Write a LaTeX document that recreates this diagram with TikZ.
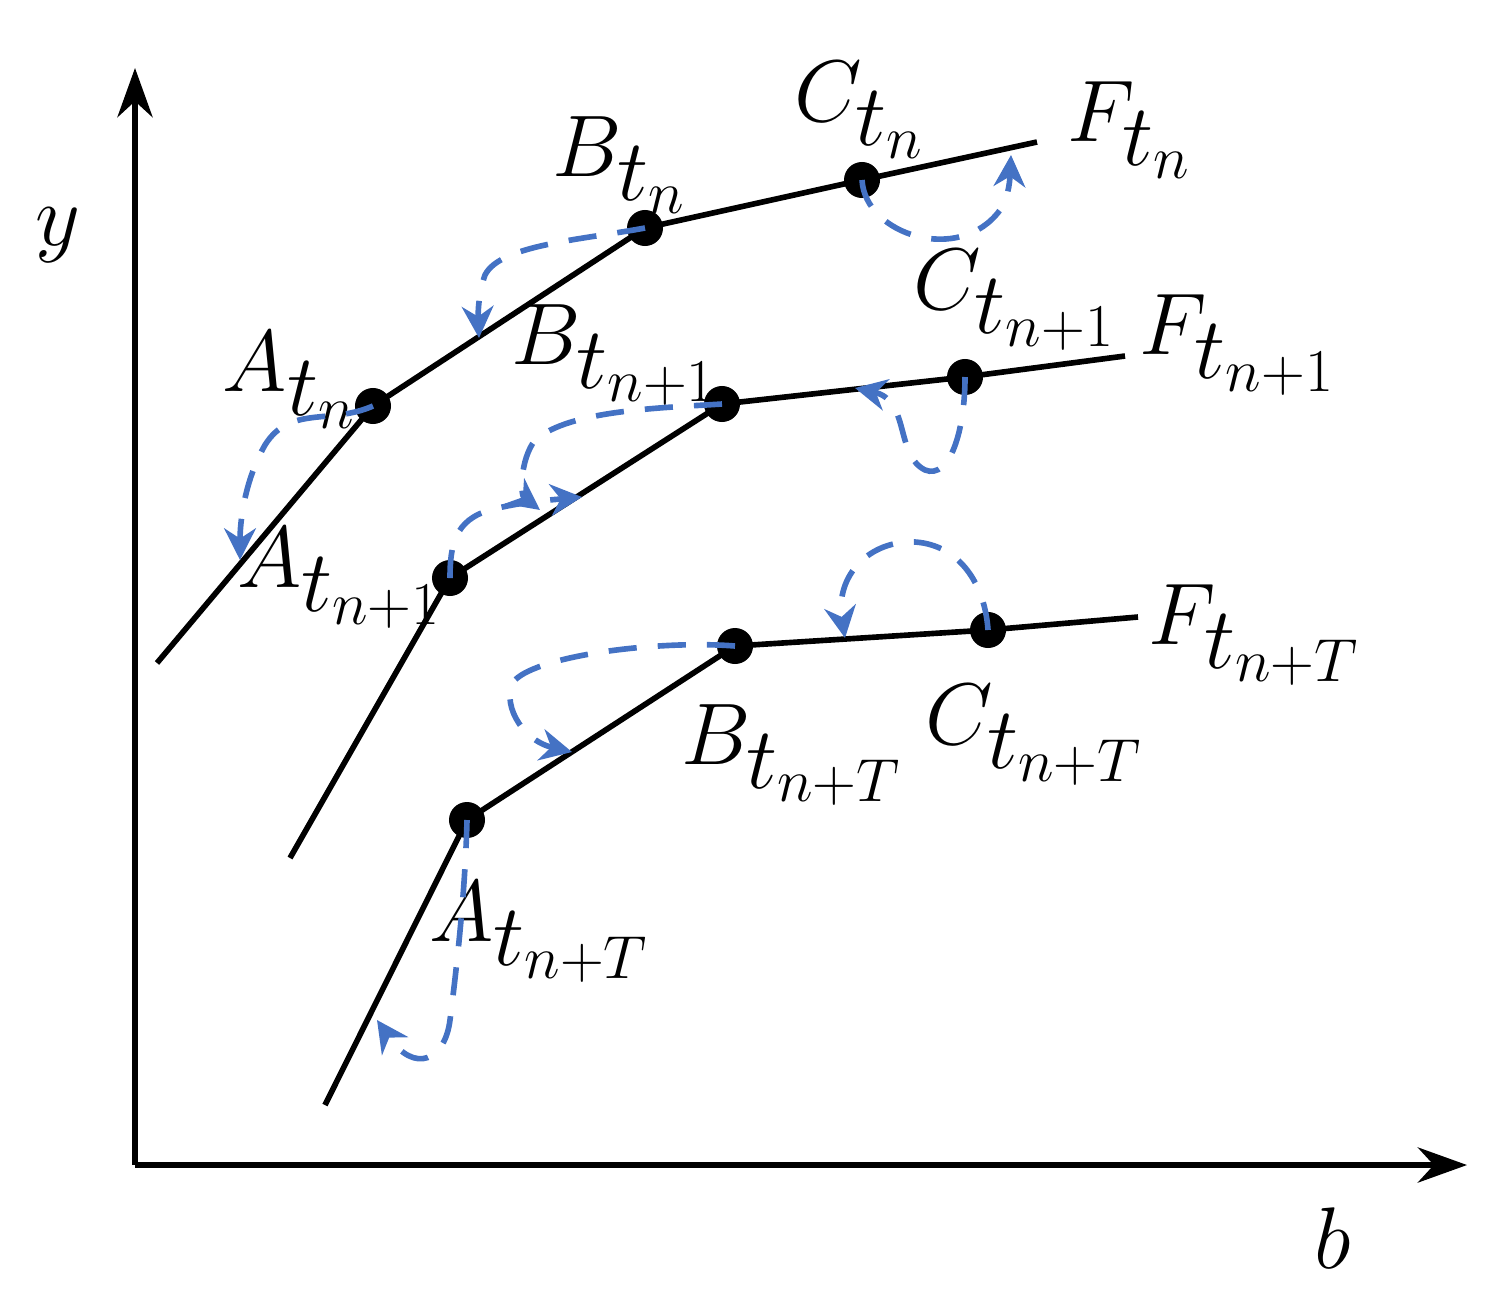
\documentclass[tikz,border=0pt]{standalone}
\usetikzlibrary{arrows.meta}
\definecolor{bl}{HTML}{4472C4}
\begin{document}
\begin{tikzpicture}[x=0.01cm,y=-0.01cm,
 dot/.style={circle,fill=black,inner sep=0pt,minimum size=0.36cm},
 curve/.style={line width=1.6pt},
 dsh/.style={bl,line width=1.6pt,dash pattern=on 8pt off 6pt,-{Stealth[length=9pt,width=9pt]}},
 lab/.style={font=\fontsize{34}{40}\selectfont}]
\useasboundingbox (0,0) rectangle (1507,1300);
\draw[line width=1.6pt,-{Stealth[length=14pt,width=10pt]}] (135,1165) -- (135,68);
\draw[line width=1.6pt,-{Stealth[length=14pt,width=10pt]}] (135,1165) -- (1467,1165);
\node[lab] at (58,235) {$y$};
\node[lab] at (1333,1238) {$b$};
% curve 1
\node[dot] (A1) at (373,406) {}; \node[dot] (B1) at (645,228) {}; \node[dot] (C1) at (862,180) {};
\coordinate (S1) at (157,663); \coordinate (E1) at (1037,142);
\draw[curve] (S1) -- (A1.center) -- (B1.center) -- (C1.center) -- (E1);
% curve 2
\node[dot] (A2) at (450,578) {}; \node[dot] (B2) at (722,404) {}; \node[dot] (C2) at (965,377) {};
\coordinate (S2) at (290,858); \coordinate (E2) at (1125,356);
\draw[curve] (S2) -- (A2.center) -- (B2.center) -- (C2.center) -- (E2);
% curve 3
\node[dot] (A3) at (467,820) {}; \node[dot] (B3) at (735,646) {}; \node[dot] (C3) at (988,630) {};
\coordinate (S3) at (325,1105); \coordinate (E3) at (1138,617);
\draw[curve] (S3) -- (A3.center) -- (B3.center) -- (C3.center) -- (E3);
% labels
\node[lab] (lA1) at (290,380) {$A_{t_n}$};
\node[lab] (lB1) at (620,165) {$B_{t_n}$};
\node[lab] (lC1) at (860,110) {$C_{t_n}$};
\node[lab] (lF1) at (1130,130) {$F_{t_n}$};
\node[lab] (lA2) at (340,578) {$A_{t_{n+1}}$};
\node[lab] (lB2) at (615,355) {$B_{t_{n+1}}$};
\node[lab] (lC2) at (1015,300) {$C_{t_{n+1}}$};
\node[lab] (lF2) at (1238,345) {$F_{t_{n+1}}$};
\node[lab] (lA3) at (540,932) {$A_{t_{n+T}}$};
\node[lab] (lB3) at (792,755) {$B_{t_{n+T}}$};
\node[lab] (lC3) at (1035,735) {$C_{t_{n+T}}$};
\node[lab] (lF3) at (1255,635) {$F_{t_{n+T}}$};
% dashed arrows
\draw[dsh] (A1.center) .. controls (330,425) and (290,405) .. (265,445) .. controls (245,480) and (240,520) .. (240,560);
\draw[dsh] (B1.center) .. controls (580,240) and (500,245) .. (485,275) .. controls (478,295) and (478,315) .. (479,338);
\draw[dsh] (C1.center) .. controls (865,235) and (960,265) .. (1000,210) .. controls (1010,195) and (1010,175) .. (1011,155);
\draw[dsh] (C2.center) .. controls (965,430) and (950,480) .. (925,470) .. controls (895,455) and (910,400) .. (855,388);
\draw[dsh] (B2.center) .. controls (660,408) and (570,410) .. (535,440) .. controls (520,460) and (520,495) .. (540,510);
\draw[dsh] (A2.center) .. controls (450,545) and (455,520) .. (490,510) .. controls (520,502) and (550,500) .. (582,497);
\draw[dsh] (B3.center) .. controls (660,640) and (540,655) .. (515,680) .. controls (500,700) and (520,740) .. (572,752);
\draw[dsh] (C3.center) .. controls (985,585) and (960,545) .. (915,542) .. controls (870,540) and (835,575) .. (845,638);
\draw[dsh] (A3.center) .. controls (465,900) and (455,980) .. (450,1020) .. controls (445,1060) and (415,1075) .. (377,1020);
\end{tikzpicture}
\end{document}
